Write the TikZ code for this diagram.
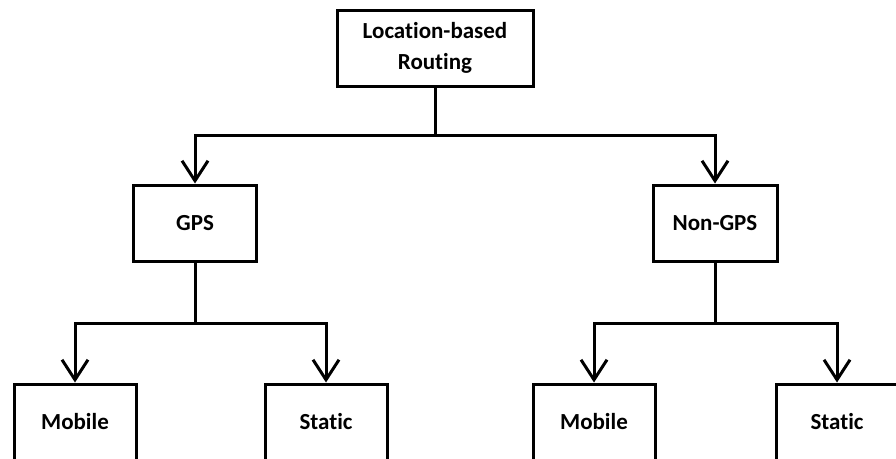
\documentclass[tikz,border=0pt]{standalone}
\usepackage{fontspec}
\setmainfont{Carlito}[Ligatures=NoCommon]
\usetikzlibrary{arrows.meta}
\begin{document}
\begin{tikzpicture}[x=1pt, y=-1pt, line width=3pt,
	every node/.style={draw, rectangle, minimum height=76pt, font=\fontsize{23}{31}\selectfont\bfseries, align=center},
	>={Straight Barb[length=20pt, width=26pt]}]
	\useasboundingbox (0, 0) rectangle (896, 458);
	\clip (0, 0) rectangle (896, 458);
	\node at (435, 48) [minimum width=196pt] (LR) {Location-based\\Routing};
	\node at (195, 223) [minimum width=123pt] (G) {GPS};
	\node at (715, 223) [minimum width=124pt] (N) {Non-GPS};
	\node at (75, 422) [minimum width=122pt] (GM) {Mobile};
	\node at (326, 422) [minimum width=122pt] (GS) {Static};
	\node at (594, 422) [minimum width=122pt] (NM) {Mobile};
	\node at (837, 422) [minimum width=122pt] (NS) {Static};

	\coordinate (LRJ) at (435, 135);
	\coordinate (GJ) at (195, 323);
	\coordinate (NJ) at (715, 323);

	\draw (LR) -- (LRJ);
	\draw [->] (LRJ) -| (G);
	\draw [->] (LRJ) -| (N);
	\draw (G) -- (GJ);
	\draw [->] (GJ) -| (GM);
	\draw [->] (GJ) -| (GS);
	\draw (N) -- (NJ);
	\draw [->] (NJ) -| (NM);
	\draw [->] (NJ) -| (NS);
\end{tikzpicture}
\end{document}
